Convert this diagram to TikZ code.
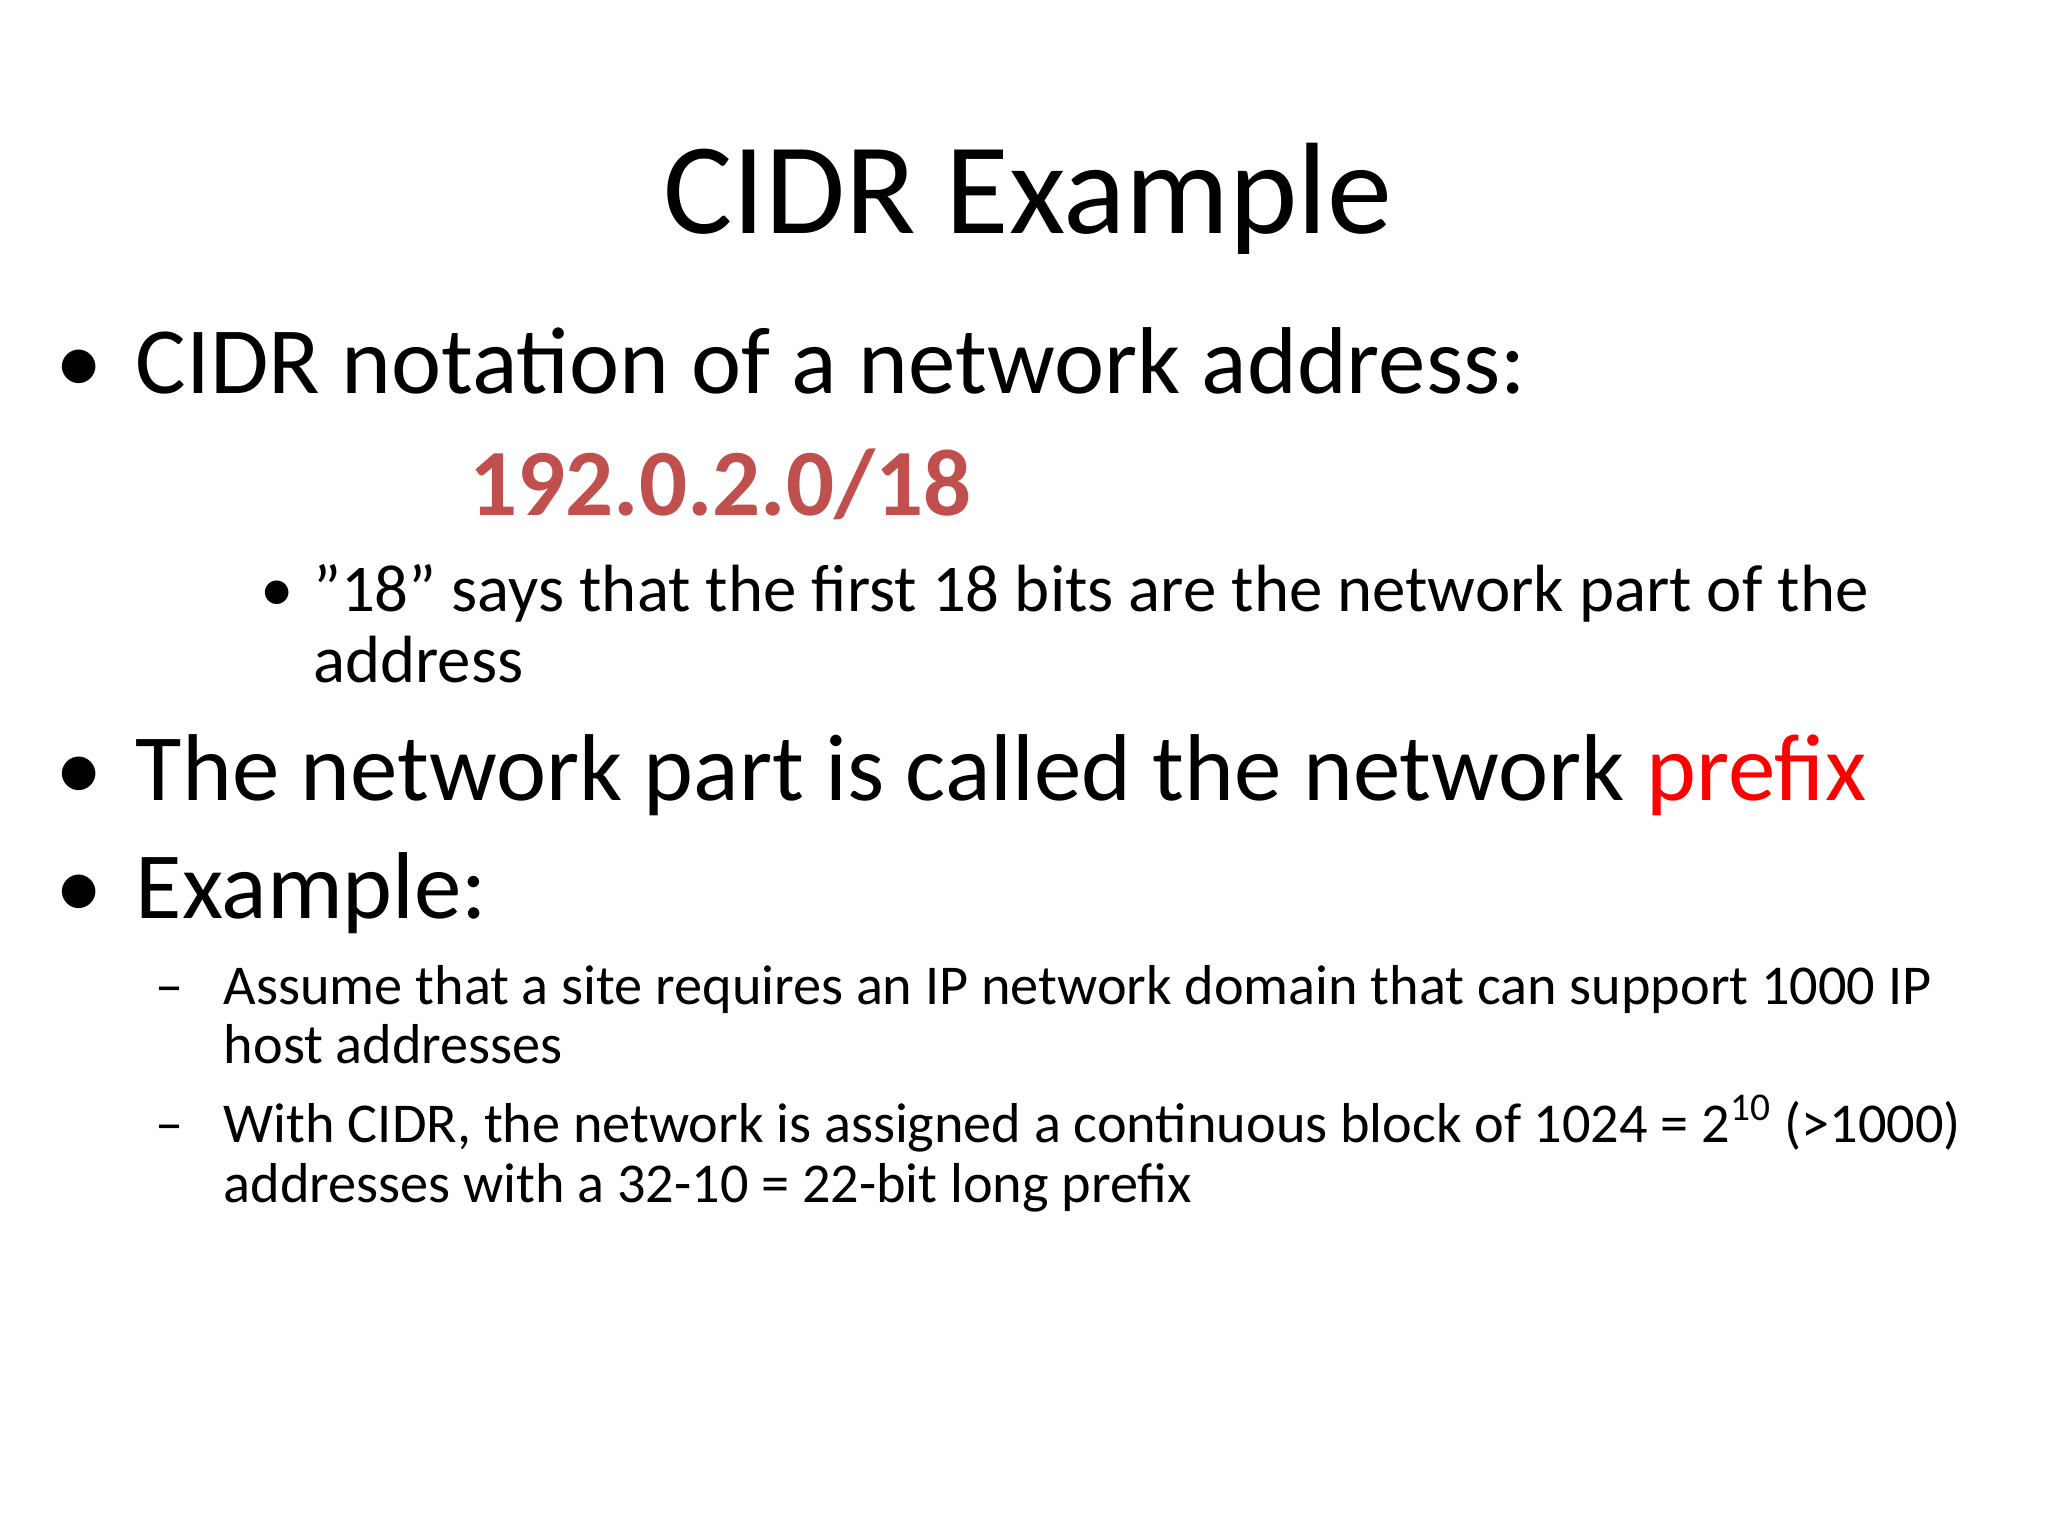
\documentclass[tikz,border=0pt]{standalone}
\usepackage{fontspec}
\setmainfont{Carlito}
\definecolor{addr}{RGB}{192,80,77}
\definecolor{pref}{RGB}{255,0,0}
\begin{document}
\begin{tikzpicture}[x=0.01313cm,y=-0.01313cm,
  txt/.style={anchor=base west,inner sep=0pt},
  lvA/.style={txt,font=\fontsize{27}{32}\selectfont},
  lvB/.style={txt,font=\fontsize{19}{23}\selectfont},
  lvC/.style={txt,font=\fontsize{16}{19}\selectfont}]
\useasboundingbox[fill=white] (0,0) rectangle (1560,1170);
\node[anchor=base,inner sep=0pt,font=\fontsize{37}{44}\selectfont] (title) at (783,178) {CIDR Example};
\node[lvA] (b1) at (42,300) {•};
\node[lvA] (t1) at (103,300) {CIDR notation of a network address:};
\node[lvA,font=\fontsize{27}{32}\selectfont\bfseries,text=addr] (ad) at (357,393) {192.0.2.0/18};
\node[lvB] (b2) at (198,466) {•};
\node[lvB] (t2a) at (238,466) {"18" says that the first 18 bits are the network part of the};
\node[lvB] (t2b) at (238,520) {address};
\node[lvA] (b3) at (42,610) {•};
\node[lvA] (t3) at (103,610) {The network part is called the network \textcolor{pref}{prefix}};
\node[lvA] (b4) at (42,700) {•};
\node[lvA] (t4) at (103,700) {Example:};
\node[lvC] (d1) at (118,765) {–};
\node[lvC] (t5a) at (170,765) {Assume that a site requires an IP network domain that can support 1000 IP};
\node[lvC] (t5b) at (170,810) {host addresses};
\node[lvC] (d2) at (118,870) {–};
\node[lvC] (t6a) at (170,870) {With CIDR, the network is assigned a continuous block of 1024 = 2\textsuperscript{10} (>1000)};
\node[lvC] (t6b) at (170,916) {addresses with a 32-10 = 22-bit long prefix};
\end{tikzpicture}
\end{document}
